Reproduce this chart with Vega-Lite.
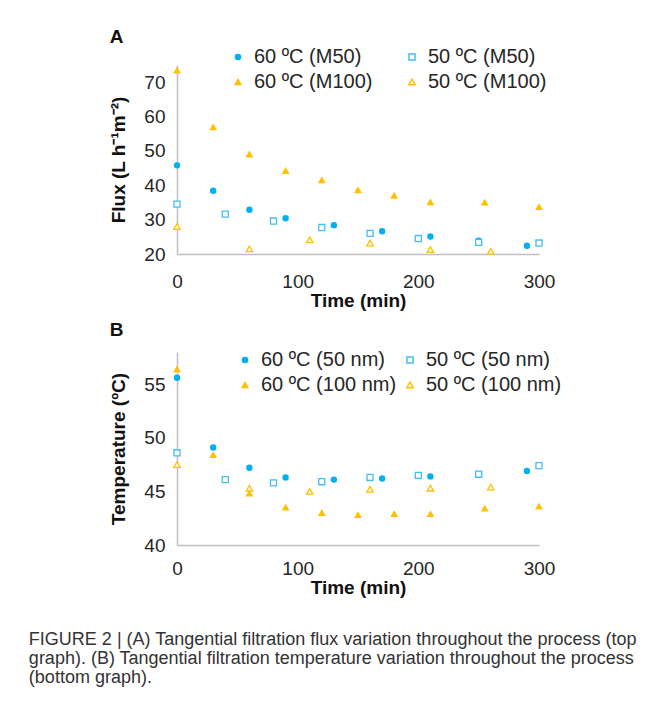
{
  "$schema": "https://vega.github.io/schema/vega-lite/v6.json",
  "background": "white",
  "autosize": {"type": "pad"},
  "padding": {"left": 28, "top": 28, "right": 5, "bottom": 5},
  "config": {
    "font": "Liberation Sans",
    "view": {"stroke": null},
    "axis": {
      "grid": false,
      "ticks": false,
      "labelFlush": false,
      "domainColor": "#bfbfbf",
      "domainWidth": 1.5,
      "labelFontSize": 19,
      "labelColor": "#262626",
      "titleFontSize": 19,
      "titleFontWeight": "bold",
      "titleColor": "#111111"
    },
    "axisX": {"labelPadding": 18, "titlePadding": 0},
    "axisY": {"labelPadding": 12, "titlePadding": 15},
    "legend": {
      "orient": "none",
      "columns": 2,
      "labelFontSize": 20,
      "labelColor": "#262626",
      "labelOffset": 6,
      "rowPadding": 5,
      "title": null
    }
  },
  "title": {
    "text": [
      "FIGURE 2 | (A) Tangential filtration flux variation throughout the process (top",
      "graph). (B) Tangential filtration temperature variation throughout the process",
      "(bottom graph)."
    ],
    "orient": "bottom",
    "anchor": "start",
    "fontSize": 18,
    "fontWeight": "normal",
    "font": "Liberation Sans",
    "color": "#333333",
    "lineHeight": 19,
    "offset": 34,
    "dx": -81
  },
  "spacing": 11,
  "resolve": {
    "scale": {"shape": "independent", "fill": "independent", "stroke": "independent", "size": "independent"},
    "legend": {"shape": "independent", "fill": "independent", "stroke": "independent", "size": "independent"}
  },
  "vconcat": [
    {
      "title": {"text": "A", "anchor": "start", "fontSize": 19, "fontWeight": "bold", "color": "#111111", "offset": 0},
      "width": 362,
      "height": 189,
      "data": {
        "values": [
          {"time": 0, "value": 45.8, "series": "60 ºC (M50)"},
          {"time": 30, "value": 38.4, "series": "60 ºC (M50)"},
          {"time": 60, "value": 32.9, "series": "60 ºC (M50)"},
          {"time": 90, "value": 30.4, "series": "60 ºC (M50)"},
          {"time": 130, "value": 28.4, "series": "60 ºC (M50)"},
          {"time": 170, "value": 26.6, "series": "60 ºC (M50)"},
          {"time": 210, "value": 25.1, "series": "60 ºC (M50)"},
          {"time": 250, "value": 23.9, "series": "60 ºC (M50)"},
          {"time": 290, "value": 22.4, "series": "60 ºC (M50)"},
          {"time": 0, "value": 34.5, "series": "50 ºC (M50)"},
          {"time": 40, "value": 31.6, "series": "50 ºC (M50)"},
          {"time": 80, "value": 29.6, "series": "50 ºC (M50)"},
          {"time": 120, "value": 27.7, "series": "50 ºC (M50)"},
          {"time": 160, "value": 26.0, "series": "50 ºC (M50)"},
          {"time": 200, "value": 24.5, "series": "50 ºC (M50)"},
          {"time": 250, "value": 23.4, "series": "50 ºC (M50)"},
          {"time": 300, "value": 23.2, "series": "50 ºC (M50)"},
          {"time": 0, "value": 73.4, "series": "60 ºC (M100)"},
          {"time": 30, "value": 56.9, "series": "60 ºC (M100)"},
          {"time": 60, "value": 49.0, "series": "60 ºC (M100)"},
          {"time": 90, "value": 44.2, "series": "60 ºC (M100)"},
          {"time": 120, "value": 41.5, "series": "60 ºC (M100)"},
          {"time": 150, "value": 38.6, "series": "60 ºC (M100)"},
          {"time": 180, "value": 37.0, "series": "60 ºC (M100)"},
          {"time": 210, "value": 35.1, "series": "60 ºC (M100)"},
          {"time": 255, "value": 35.0, "series": "60 ºC (M100)"},
          {"time": 300, "value": 33.7, "series": "60 ºC (M100)"},
          {"time": 0, "value": 28.0, "series": "50 ºC (M100)"},
          {"time": 60, "value": 21.5, "series": "50 ºC (M100)"},
          {"time": 110, "value": 24.1, "series": "50 ºC (M100)"},
          {"time": 160, "value": 23.2, "series": "50 ºC (M100)"},
          {"time": 210, "value": 21.3, "series": "50 ºC (M100)"},
          {"time": 260, "value": 20.8, "series": "50 ºC (M100)"}
        ]
      },
      "mark": {"type": "point", "strokeWidth": 1.3, "opacity": 1},
      "encoding": {
        "x": {"field": "time", "type": "quantitative", "scale": {"domain": [0, 300], "nice": false}, "axis": {"values": [0, 100, 200, 300], "title": "Time (min)"}},
        "y": {"field": "value", "type": "quantitative", "scale": {"domain": [20, 75], "nice": false}, "axis": {"values": [20, 30, 40, 50, 60, 70], "title": "Flux (L h⁻¹m⁻²)"}},
        "shape": {"field": "series", "type": "nominal", "scale": {"domain": ["60 ºC (M50)", "60 ºC (M100)", "50 ºC (M50)", "50 ºC (M100)"], "range": ["circle", "triangle-up", "square", "triangle-up"]}, "legend": {"legendX": 51, "legendY": -18, "columnPadding": 29}},
        "fill": {"field": "series", "type": "nominal", "scale": {"domain": ["60 ºC (M50)", "60 ºC (M100)", "50 ºC (M50)", "50 ºC (M100)"], "range": ["#00B0F0", "#FFC000", "#ffffff", "#ffffff"]}, "legend": {"legendX": 51, "legendY": -18, "columnPadding": 29}},
        "stroke": {"field": "series", "type": "nominal", "scale": {"domain": ["60 ºC (M50)", "60 ºC (M100)", "50 ºC (M50)", "50 ºC (M100)"], "range": ["#00B0F0", "#FFC000", "#45BEF0", "#FFC000"]}, "legend": {"legendX": 51, "legendY": -18, "columnPadding": 29}},
        "size": {"field": "series", "type": "nominal", "scale": {"domain": ["60 ºC (M50)", "60 ºC (M100)", "50 ºC (M50)", "50 ºC (M100)"], "range": [26, 42, 50, 40]}, "legend": {"legendX": 51, "legendY": -18, "columnPadding": 29}}
      }
    },
    {
      "title": {"text": "B", "anchor": "start", "fontSize": 19, "fontWeight": "bold", "color": "#111111", "offset": 10},
      "width": 362,
      "height": 193,
      "data": {
        "values": [
          {"time": 0, "value": 55.6, "series": "60 ºC (50 nm)"},
          {"time": 30, "value": 49.1, "series": "60 ºC (50 nm)"},
          {"time": 60, "value": 47.2, "series": "60 ºC (50 nm)"},
          {"time": 90, "value": 46.3, "series": "60 ºC (50 nm)"},
          {"time": 130, "value": 46.1, "series": "60 ºC (50 nm)"},
          {"time": 170, "value": 46.2, "series": "60 ºC (50 nm)"},
          {"time": 210, "value": 46.4, "series": "60 ºC (50 nm)"},
          {"time": 250, "value": 46.6, "series": "60 ºC (50 nm)"},
          {"time": 290, "value": 46.9, "series": "60 ºC (50 nm)"},
          {"time": 0, "value": 48.6, "series": "50 ºC (50 nm)"},
          {"time": 40, "value": 46.1, "series": "50 ºC (50 nm)"},
          {"time": 80, "value": 45.8, "series": "50 ºC (50 nm)"},
          {"time": 120, "value": 45.9, "series": "50 ºC (50 nm)"},
          {"time": 160, "value": 46.3, "series": "50 ºC (50 nm)"},
          {"time": 200, "value": 46.5, "series": "50 ºC (50 nm)"},
          {"time": 250, "value": 46.6, "series": "50 ºC (50 nm)"},
          {"time": 300, "value": 47.4, "series": "50 ºC (50 nm)"},
          {"time": 0, "value": 56.4, "series": "60 ºC (100 nm)"},
          {"time": 30, "value": 48.4, "series": "60 ºC (100 nm)"},
          {"time": 60, "value": 44.8, "series": "60 ºC (100 nm)"},
          {"time": 90, "value": 43.5, "series": "60 ºC (100 nm)"},
          {"time": 120, "value": 43.0, "series": "60 ºC (100 nm)"},
          {"time": 150, "value": 42.8, "series": "60 ºC (100 nm)"},
          {"time": 180, "value": 42.9, "series": "60 ºC (100 nm)"},
          {"time": 210, "value": 42.9, "series": "60 ºC (100 nm)"},
          {"time": 255, "value": 43.4, "series": "60 ºC (100 nm)"},
          {"time": 300, "value": 43.6, "series": "60 ºC (100 nm)"},
          {"time": 0, "value": 47.5, "series": "50 ºC (100 nm)"},
          {"time": 60, "value": 45.3, "series": "50 ºC (100 nm)"},
          {"time": 110, "value": 45.0, "series": "50 ºC (100 nm)"},
          {"time": 160, "value": 45.2, "series": "50 ºC (100 nm)"},
          {"time": 210, "value": 45.3, "series": "50 ºC (100 nm)"},
          {"time": 260, "value": 45.4, "series": "50 ºC (100 nm)"}
        ]
      },
      "mark": {"type": "point", "strokeWidth": 1.3, "opacity": 1},
      "encoding": {
        "x": {"field": "time", "type": "quantitative", "scale": {"domain": [0, 300], "nice": false}, "axis": {"values": [0, 100, 200, 300], "title": "Time (min)", "labelPadding": 14}},
        "y": {"field": "value", "type": "quantitative", "scale": {"domain": [40, 58], "nice": false}, "axis": {"values": [40, 45, 50, 55], "title": "Temperature (ºC)"}},
        "shape": {"field": "series", "type": "nominal", "scale": {"domain": ["60 ºC (50 nm)", "60 ºC (100 nm)", "50 ºC (50 nm)", "50 ºC (100 nm)"], "range": ["circle", "triangle-up", "square", "triangle-up"]}, "legend": {"legendX": 58, "legendY": -2, "columnPadding": 3}},
        "fill": {"field": "series", "type": "nominal", "scale": {"domain": ["60 ºC (50 nm)", "60 ºC (100 nm)", "50 ºC (50 nm)", "50 ºC (100 nm)"], "range": ["#00B0F0", "#FFC000", "#ffffff", "#ffffff"]}, "legend": {"legendX": 58, "legendY": -2, "columnPadding": 3}},
        "stroke": {"field": "series", "type": "nominal", "scale": {"domain": ["60 ºC (50 nm)", "60 ºC (100 nm)", "50 ºC (50 nm)", "50 ºC (100 nm)"], "range": ["#00B0F0", "#FFC000", "#45BEF0", "#FFC000"]}, "legend": {"legendX": 58, "legendY": -2, "columnPadding": 3}},
        "size": {"field": "series", "type": "nominal", "scale": {"domain": ["60 ºC (50 nm)", "60 ºC (100 nm)", "50 ºC (50 nm)", "50 ºC (100 nm)"], "range": [26, 42, 50, 40]}, "legend": {"legendX": 58, "legendY": -2, "columnPadding": 3}}
      }
    }
  ]
}
